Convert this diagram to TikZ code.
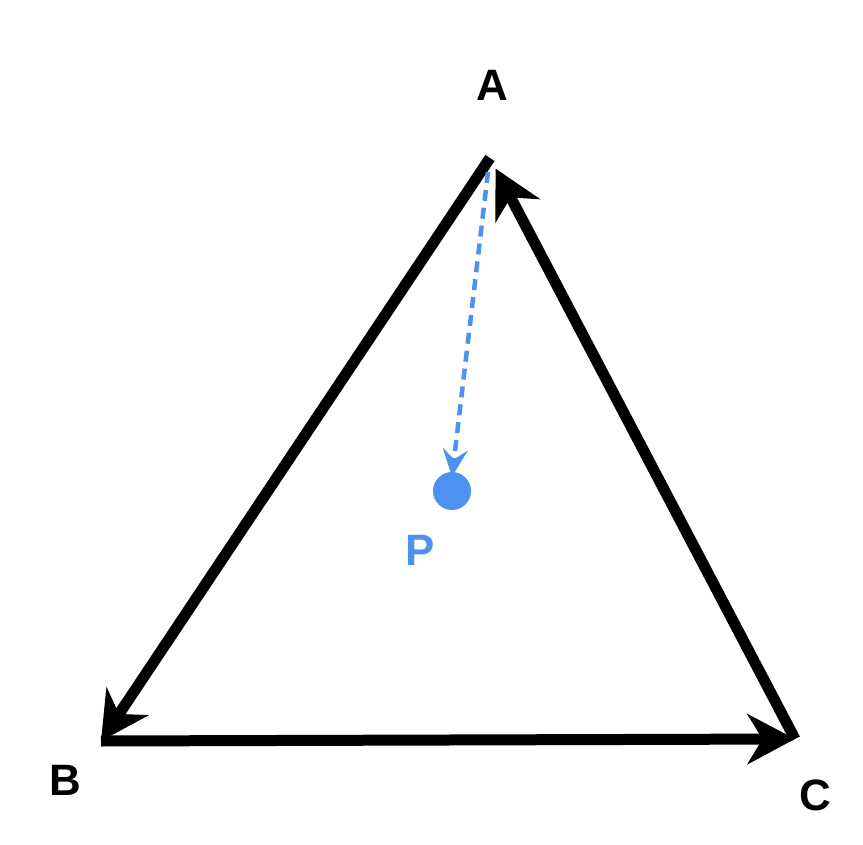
\documentclass[tikz,border=0pt]{standalone}
\usepackage{fontspec}
\setmainfont{Liberation Sans}
\usepackage{xcolor}
\usetikzlibrary{arrows.meta,positioning,calc}
\definecolor{edge}{HTML}{000000}
\definecolor{probe}{HTML}{4D92F0}
\tikzset{
    % Triangle side style
    side/.style={
        -{Stealth[length=0.95cm, width=1cm, inset=0.3cm]},
        line width=0.22cm,
        color=edge
    },
    % Dashed probe arrow
    probeflow/.style={
        -{Stealth[length=0.55cm, width=0.5cm, inset=0.2cm]},
        line width=0.09cm,
        dash pattern=on 0.22cm off 0.14cm,
        color=probe
    },
    % Vertex label style
    vertex label/.style={
        font=\fontsize{25}{29}\selectfont\bfseries,
        text=#1
    }
}
\begin{document}
\begin{tikzpicture}[x=0.02cm, y=-0.02cm]
        \useasboundingbox (0,0) rectangle (863,845);
        % Triangle corners
        \coordinate (A) at (490,158);
        \coordinate (B) at (101,741);
        \coordinate (C) at (795,739);
        \coordinate (As) at (488,172);

        % Sides of the triangle
        \draw[side] (A) -- (B);
        \draw[side] (B) -- (C);
        \draw[side, shorten >=0.24cm] (C) -- (A);

        % Point P
        \node[circle, fill=probe, minimum size=0.76cm, inner sep=0pt] (pdot) at (452,491) {};
        \draw[probeflow] (As) -- ($(pdot.north)+(0,5)$);

        % Labels
        \node[vertex label=black] (labA) at (492,85) {A};
        \node[vertex label=black] (labB) at (65,780) {B};
        \node[vertex label=black] (labC) at (815,795) {C};
        \node[vertex label=probe] (labP) at (420,550) {P};
    \end{tikzpicture}
\end{document}
